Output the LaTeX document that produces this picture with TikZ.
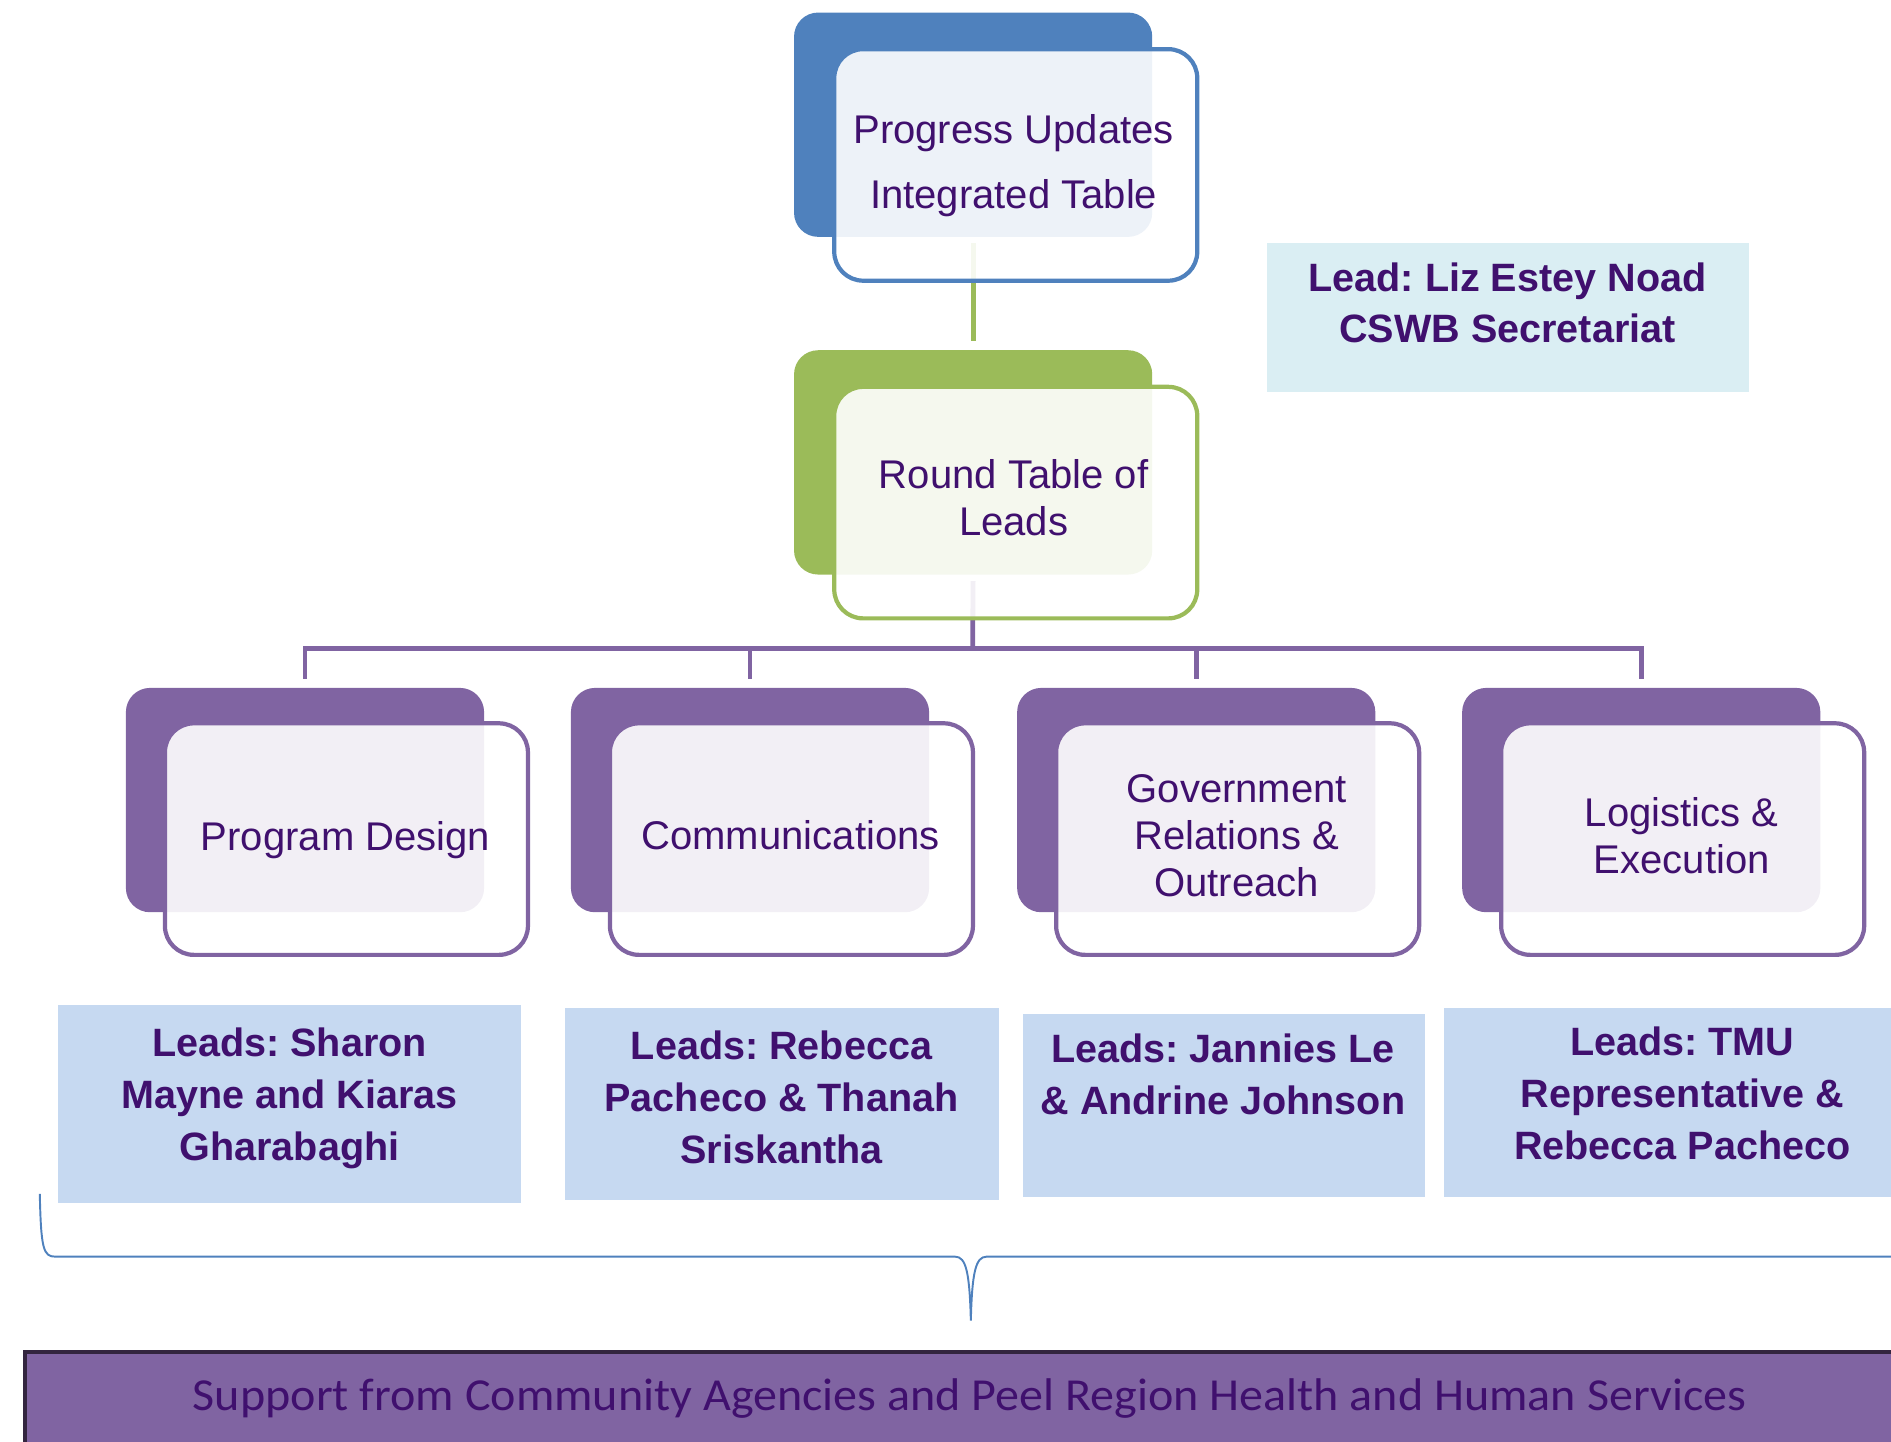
\documentclass[tikz,border=0pt]{standalone}
\usepackage{fontspec}
\setmainfont{Liberation Sans}
\newfontfamily\barfont{Carlito}
\frenchspacing
\definecolor{cblue}{HTML}{4F81BD}
\definecolor{cgreen}{HTML}{9BBB59}
\definecolor{cpurple}{HTML}{8064A2}
\definecolor{ctext}{HTML}{40106E}
\definecolor{cleadtop}{HTML}{DAEEF3}
\definecolor{clead}{HTML}{C6D9F1}
\definecolor{cbarborder}{HTML}{33253F}
\tikzset{
  backbox/.style={fill=#1, draw=none, rounded corners=10pt, inner sep=0pt,
    minimum width=148.5pt, minimum height=93pt, anchor=north west},
  frontbox/.style={draw=#1, line width=1.75pt, fill=white, fill opacity=0.9,
    rounded corners=12pt, inner sep=0pt,
    minimum width=150.5pt, minimum height=96pt, anchor=north west},
  boxtxt/.style={align=center, text=ctext, inner sep=0pt,
    font=\fontsize{16.6}{19.5}\selectfont},
  leadbox/.style={fill=#1, draw=none, inner sep=0pt, anchor=north west},
  leadtxt/.style={align=center, text=ctext, inner sep=0pt,
    font=\bfseries\fontsize{16.4}{21.5}\selectfont},
  conn/.style={draw=#1, line width=2pt},
}
\begin{document}
\begin{tikzpicture}[x=0.5pt,y=-0.5pt]
\useasboundingbox (0,0) rectangle (1568,1195);

% ---------- back boxes ----------
\node[backbox=cblue]   (ab) at (658,10)  {};
\node[backbox=cgreen]  (gb) at (658,290) {};
\node[backbox=cpurple] (p1b) at (104,570)  {};
\node[backbox=cpurple] (p2b) at (473,570)  {};
\node[backbox=cpurple] (p3b) at (843,570)  {};
\node[backbox=cpurple] (p4b) at (1212,570) {};

% ---------- connectors (behind front boxes) ----------
\coordinate (bus) at (806.5,538);
\draw[conn=cgreen, shorten <=2.5pt, shorten >=3.5pt] (ab.south) -- (gb.north);
\draw[conn=cpurple, shorten <=2.5pt] (gb.south) -- (bus);
\draw[conn=cpurple, shorten >=3.5pt] (bus) -| (p1b.north);
\draw[conn=cpurple, shorten >=3.5pt] (bus) -| (p2b.north);
\draw[conn=cpurple, shorten >=3.5pt] (bus) -| (p3b.north);
\draw[conn=cpurple, shorten >=3.5pt] (bus) -| (p4b.north);

% ---------- front boxes ----------
\node[frontbox=cblue]   (a)  at (690,39)   {};
\node[frontbox=cgreen]  (g)  at (690,319)  {};
\node[frontbox=cpurple] (p1) at (135,598)  {};
\node[frontbox=cpurple] (p2) at (504,598)  {};
\node[frontbox=cpurple] (p3) at (874,598)  {};
\node[frontbox=cpurple] (p4) at (1243,598) {};

% ---------- box texts ----------
\node[boxtxt, font=\fontsize{16.6}{27}\selectfont] (at) at (840.5,137)
  {Progress Updates\\Integrated Table};
\node[boxtxt] (gt)  at (840.5,413)   {Round Table of\\Leads};
\node[boxtxt] (p1t) at (286.5,696.5) {Program Design};
\node[boxtxt] (p2t) at (655.5,692.5) {Communications};
\node[boxtxt] (p3t) at (1025.5,693) {Government\\Relations \&\\Outreach};
\node[boxtxt] (p4t) at (1394.5,693) {Logistics \&\\Execution};

% ---------- lead boxes ----------
\node[leadbox=cleadtop, minimum width=200pt, minimum height=62pt] (lt) at (1050,201) {};
\node[leadtxt, font=\bfseries\fontsize{16.4}{21}\selectfont] (ltt) at (1250,251)
  {Lead: Liz Estey Noad\\CSWB Secretariat};

\node[leadbox=clead, minimum width=192pt, minimum height=82pt] (l1) at (48,833) {};
\node[leadtxt] (l1t) at (240,911) {Leads: Sharon\\Mayne and Kiaras\\Gharabaghi};

\node[leadbox=clead, minimum width=180pt, minimum height=80pt] (l2) at (468,835) {};
\node[leadtxt] (l2t) at (648,910) {Leads: Rebecca\\Pacheco \& Thanah\\Sriskantha};

\node[leadbox=clead, minimum width=166.5pt, minimum height=76pt] (l3) at (848,840) {};
\node[leadtxt] (l3t) at (1014,891) {Leads: Jannies Le\\\& Andrine Johnson};

\node[leadbox=clead, minimum width=192pt, minimum height=78.5pt] (l4) at (1197,835) {};
\node[leadtxt] (l4t) at (1395,906.5) {Leads: TMU\\Representative \&\\Rebecca Pacheco};

% ---------- brace ----------
\coordinate (btip) at (805,1095);
\draw[cblue, line width=0.8pt]
  (33,990) .. controls (34,1036) and (36,1042) .. (46,1042)
  -- (792,1042) .. controls (801,1042) and (804,1055) .. (btip)
  .. controls (806,1055) and (809,1042) .. (818,1042) -- (1580,1042);

% ---------- bottom bar ----------
\node[fill=cpurple, draw=cbarborder, line width=1.8pt, inner sep=0pt,
  minimum width=790pt, minimum height=48pt, anchor=north west] (bar) at (19,1119) {};
\node[text=ctext, inner sep=0pt] (bart) at (804,1160)
  {\resizebox{644pt}{\height}{\barfont\fontsize{19}{19}\selectfont Support from Community Agencies and Peel Region Health and Human Services}};
\end{tikzpicture}
\end{document}
